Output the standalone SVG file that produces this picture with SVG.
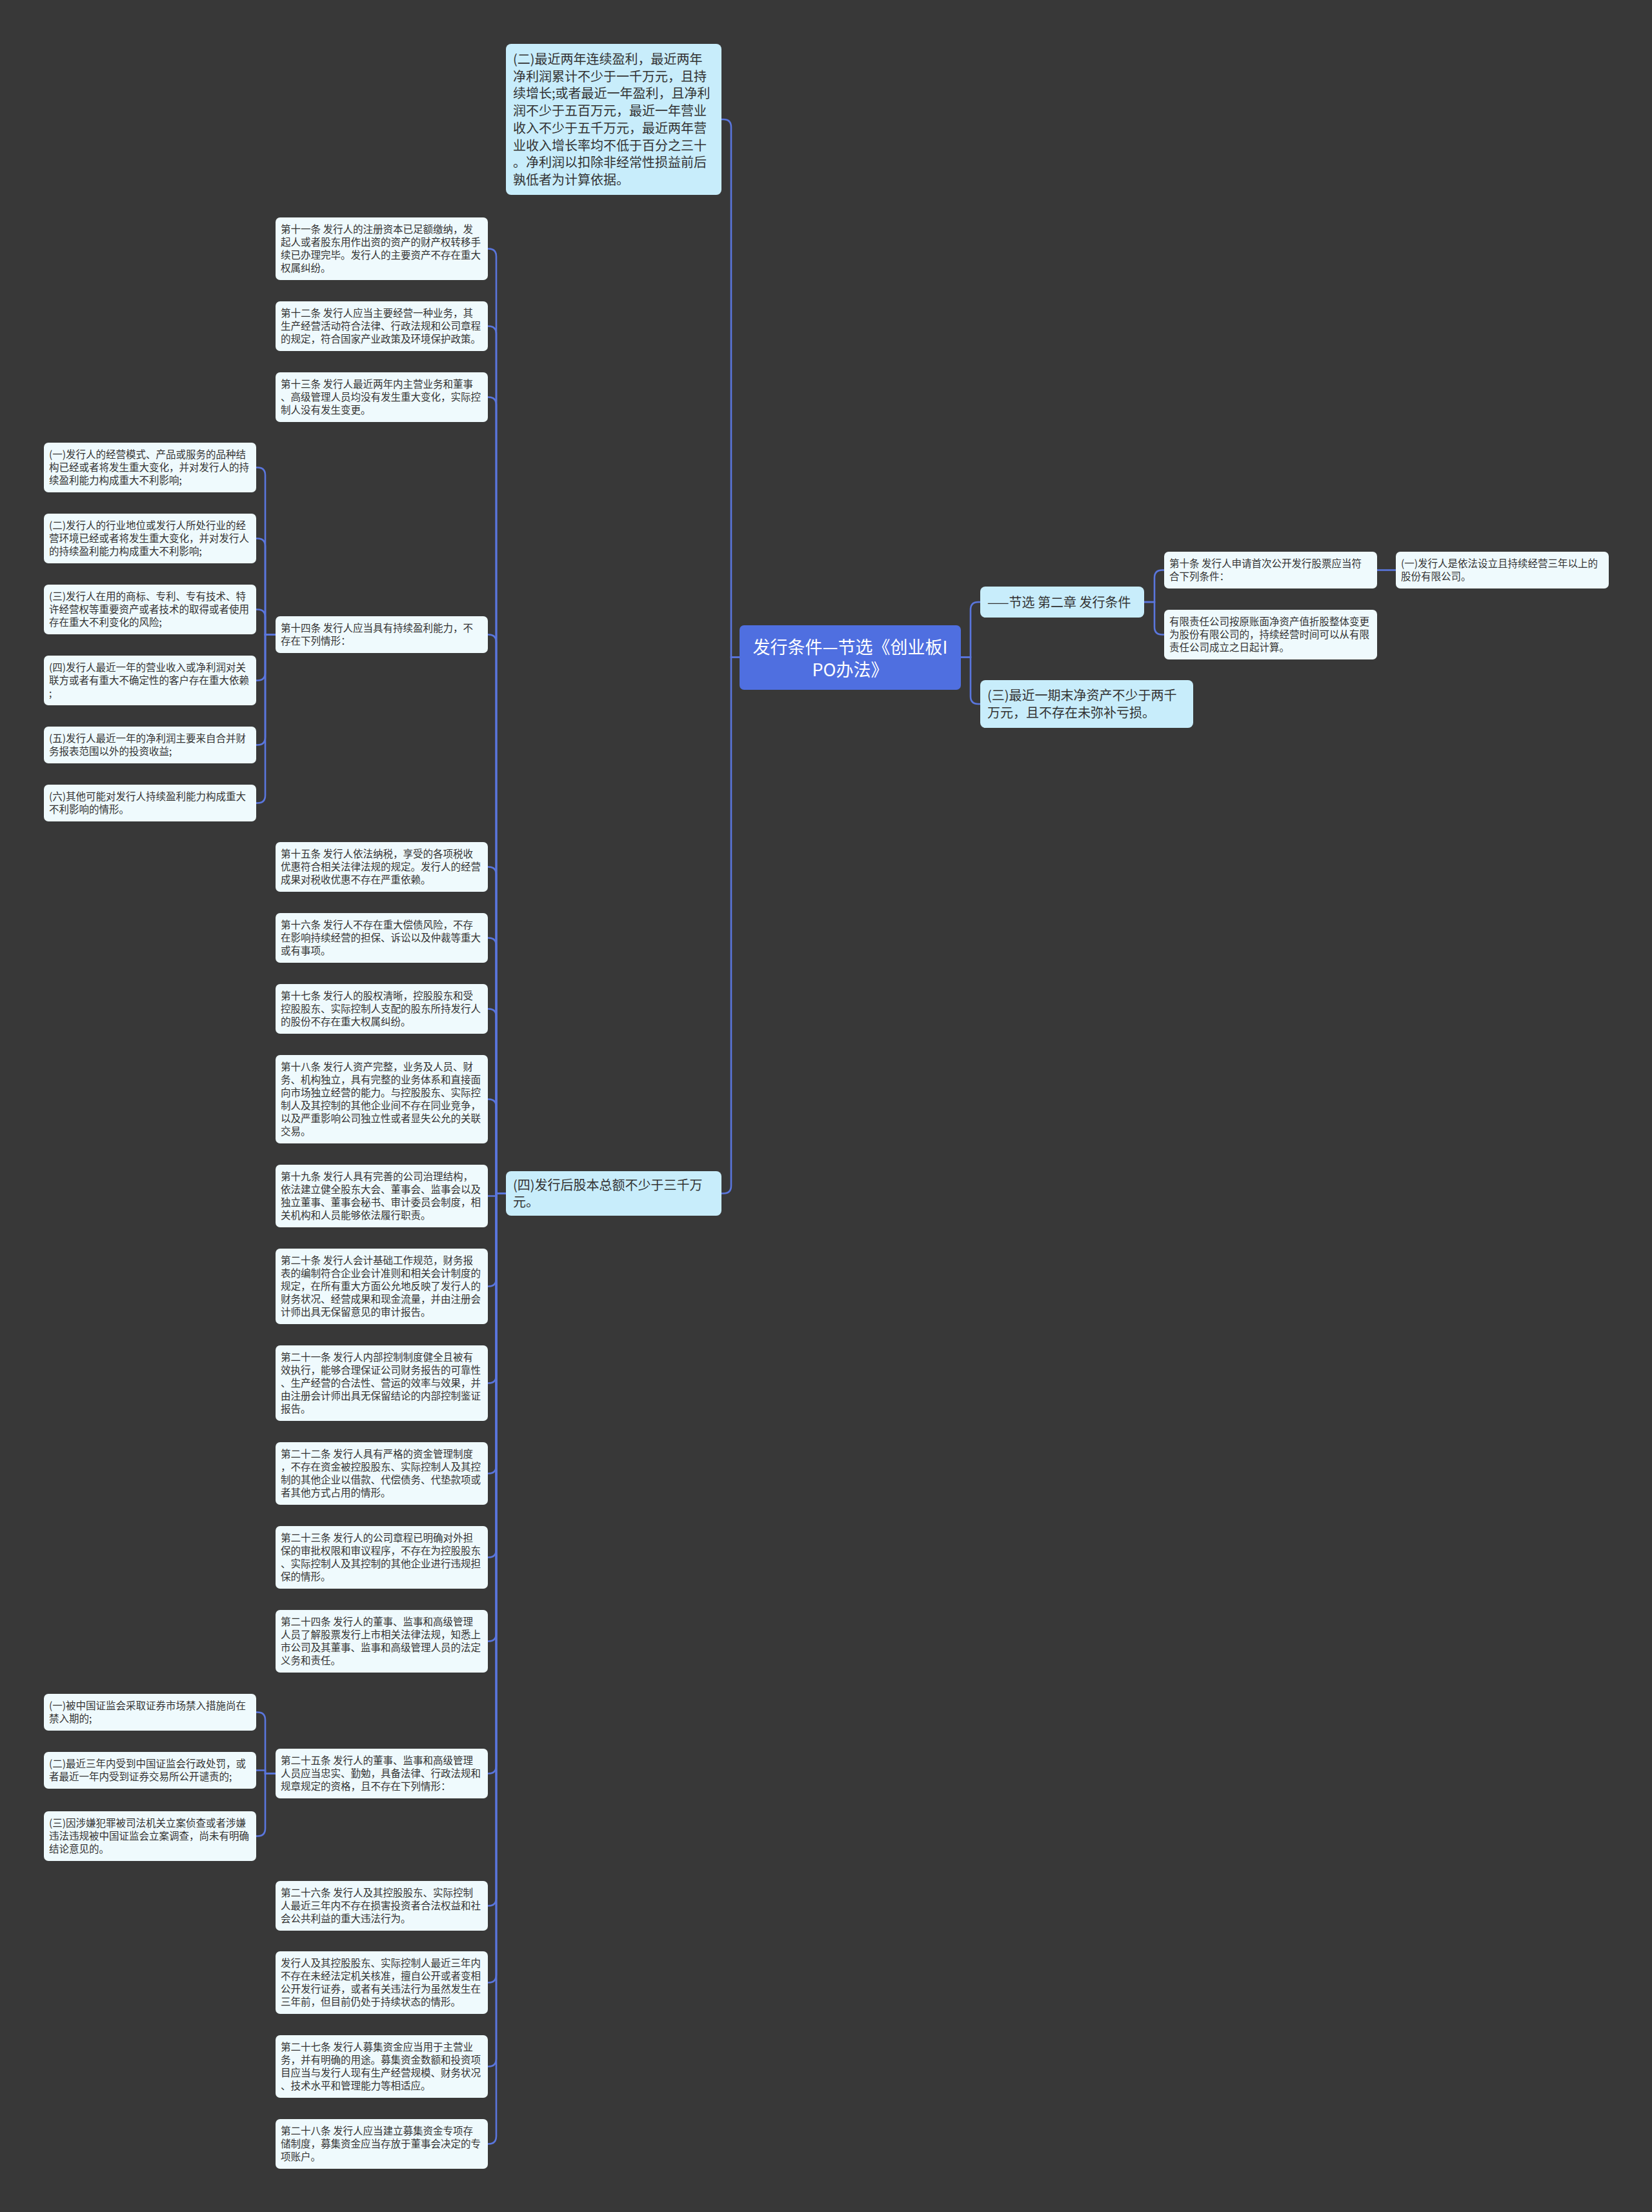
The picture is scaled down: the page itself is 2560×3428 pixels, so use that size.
<svg xmlns="http://www.w3.org/2000/svg" width="2560" height="3428" viewBox="0 0 2560 3428">
<style>
.bg{fill:#383838}
.c{fill:none;stroke:#5a76dd;stroke-width:2.6}
.root{fill:#4f6fe0}
.l1{fill:#c8edfb}
.l2{fill:#effafd}
text{font-family:"Noto Sans CJK SC","Noto Sans",sans-serif;fill:#333333}
.tr{font-size:27px;fill:#ffffff;text-anchor:middle}
.t1{font-size:20px}
.t2{font-size:15.5px}
</style>
<rect class="bg" x="0" y="0" width="2560" height="3428"/>
<g id="connectors">
<path class="c" d="M1146 1018.5 H1133 V197 Q1133 185 1121 185 H1118"/>
<path class="c" d="M1146 1018.5 H1133 V1837.5 Q1133 1849.5 1121 1849.5 H1118"/>
<path class="c" d="M1489 1018.5 H1504 V945 Q1504 933 1516 933 H1519"/>
<path class="c" d="M1489 1018.5 H1504 V1079 Q1504 1091 1516 1091 H1519"/>
<path class="c" d="M1773 933 H1789 V895.5 Q1789 883.5 1801 883.5 H1804"/>
<path class="c" d="M1773 933 H1789 V971.5 Q1789 983.5 1801 983.5 H1804"/>
<path class="c" d="M2134 883.5 H2163"/>
<path class="c" d="M784 1849.5 H769 V397.5 Q769 385.5 757 385.5 H756"/>
<path class="c" d="M784 1849.5 H769 V517.5 Q769 505.5 757 505.5 H756"/>
<path class="c" d="M784 1849.5 H769 V627.5 Q769 615.5 757 615.5 H756"/>
<path class="c" d="M784 1849.5 H769 V995.5 Q769 983.5 757 983.5 H756"/>
<path class="c" d="M784 1849.5 H769 V1355.5 Q769 1343.5 757 1343.5 H756"/>
<path class="c" d="M784 1849.5 H769 V1465.5 Q769 1453.5 757 1453.5 H756"/>
<path class="c" d="M784 1849.5 H769 V1575.5 Q769 1563.5 757 1563.5 H756"/>
<path class="c" d="M784 1849.5 H769 V1715.5 Q769 1703.5 757 1703.5 H756"/>
<path class="c" d="M784 1849.5 H769 V1853.5 H756"/>
<path class="c" d="M784 1849.5 H769 V1981.5 Q769 1993.5 757 1993.5 H756"/>
<path class="c" d="M784 1849.5 H769 V2131.5 Q769 2143.5 757 2143.5 H756"/>
<path class="c" d="M784 1849.5 H769 V2271.5 Q769 2283.5 757 2283.5 H756"/>
<path class="c" d="M784 1849.5 H769 V2401.5 Q769 2413.5 757 2413.5 H756"/>
<path class="c" d="M784 1849.5 H769 V2531.5 Q769 2543.5 757 2543.5 H756"/>
<path class="c" d="M784 1849.5 H769 V2736.5 Q769 2748.5 757 2748.5 H756"/>
<path class="c" d="M784 1849.5 H769 V2941.5 Q769 2953.5 757 2953.5 H756"/>
<path class="c" d="M784 1849.5 H769 V3060.5 Q769 3072.5 757 3072.5 H756"/>
<path class="c" d="M784 1849.5 H769 V3190.5 Q769 3202.5 757 3202.5 H756"/>
<path class="c" d="M784 1849.5 H769 V3310.5 Q769 3322.5 757 3322.5 H756"/>
<path class="c" d="M427 983.5 H411 V736.5 Q411 724.5 399 724.5 H397"/>
<path class="c" d="M427 983.5 H411 V846.5 Q411 834.5 399 834.5 H397"/>
<path class="c" d="M427 983.5 H411 V956.5 Q411 944.5 399 944.5 H397"/>
<path class="c" d="M427 983.5 H411 V1042.5 Q411 1054.5 399 1054.5 H397"/>
<path class="c" d="M427 983.5 H411 V1142.5 Q411 1154.5 399 1154.5 H397"/>
<path class="c" d="M427 983.5 H411 V1232.5 Q411 1244.5 399 1244.5 H397"/>
<path class="c" d="M427 2748.5 H411 V2665.5 Q411 2653.5 399 2653.5 H397"/>
<path class="c" d="M427 2748.5 H411 V2743.5 H397"/>
<path class="c" d="M427 2748.5 H411 V2833.5 Q411 2845.5 399 2845.5 H397"/>
</g>
<g id="root"><rect class="root" x="1146" y="969" width="343" height="100" rx="7"/><text class="tr"><tspan x="1317.5" y="1013">发行条件—节选《创业板I</tspan><tspan x="1317.5" y="1048">PO办法》</tspan></text></g>
<g id="n-er"><rect class="l1" x="784" y="68" width="334" height="234" rx="8"/><text class="t1"><tspan x="795" y="99">(二)最近两年连续盈利，最近两年</tspan><tspan x="795" y="125.7">净利润累计不少于一千万元，且持</tspan><tspan x="795" y="152.4">续增长;或者最近一年盈利，且净利</tspan><tspan x="795" y="179.1">润不少于五百万元，最近一年营业</tspan><tspan x="795" y="205.8">收入不少于五千万元，最近两年营</tspan><tspan x="795" y="232.5">业收入增长率均不低于百分之三十</tspan><tspan x="795" y="259.2">。净利润以扣除非经常性损益前后</tspan><tspan x="795" y="285.9">孰低者为计算依据。</tspan></text></g>
<g id="n-si"><rect class="l1" x="784" y="1815" width="334" height="69" rx="8"/><text class="t1"><tspan x="795" y="1843.7">(四)发行后股本总额不少于三千万</tspan><tspan x="795" y="1870.4">元。</tspan></text></g>
<g id="n-jiexuan"><rect class="l1" x="1519" y="909" width="254" height="48" rx="8"/><text class="t1"><tspan x="1530" y="940.5">——节选 第二章 发行条件</tspan></text></g>
<g id="n-san"><rect class="l1" x="1519" y="1054" width="330" height="74" rx="8"/><text class="t1"><tspan x="1530" y="1085">(三)最近一期末净资产不少于两千</tspan><tspan x="1530" y="1111.7">万元，且不存在未弥补亏损。</tspan></text></g>
<g id="n-10"><rect class="l2" x="1804" y="855" width="330" height="57" rx="7"/><text class="t2"><tspan x="1812" y="879">第十条 发行人申请首次公开发行股票应当符</tspan><tspan x="1812" y="899">合下列条件：</tspan></text></g>
<g id="n-ltd"><rect class="l2" x="1804" y="945" width="330" height="77" rx="7"/><text class="t2"><tspan x="1812" y="969">有限责任公司按原账面净资产值折股整体变更</tspan><tspan x="1812" y="989">为股份有限公司的，持续经营时间可以从有限</tspan><tspan x="1812" y="1009">责任公司成立之日起计算。</tspan></text></g>
<g id="n-10-1"><rect class="l2" x="2163" y="855" width="330" height="57" rx="7"/><text class="t2"><tspan x="2171" y="879">(一)发行人是依法设立且持续经营三年以上的</tspan><tspan x="2171" y="899">股份有限公司。</tspan></text></g>
<g id="n-11"><rect class="l2" x="427" y="337" width="329" height="97" rx="7"/><text class="t2"><tspan x="435" y="361">第十一条 发行人的注册资本已足额缴纳，发</tspan><tspan x="435" y="381">起人或者股东用作出资的资产的财产权转移手</tspan><tspan x="435" y="401">续已办理完毕。发行人的主要资产不存在重大</tspan><tspan x="435" y="421">权属纠纷。</tspan></text></g>
<g id="n-12"><rect class="l2" x="427" y="467" width="329" height="77" rx="7"/><text class="t2"><tspan x="435" y="491">第十二条 发行人应当主要经营一种业务，其</tspan><tspan x="435" y="511">生产经营活动符合法律、行政法规和公司章程</tspan><tspan x="435" y="531">的规定，符合国家产业政策及环境保护政策。</tspan></text></g>
<g id="n-13"><rect class="l2" x="427" y="577" width="329" height="77" rx="7"/><text class="t2"><tspan x="435" y="601">第十三条 发行人最近两年内主营业务和董事</tspan><tspan x="435" y="621">、高级管理人员均没有发生重大变化，实际控</tspan><tspan x="435" y="641">制人没有发生变更。</tspan></text></g>
<g id="n-14"><rect class="l2" x="427" y="955" width="329" height="57" rx="7"/><text class="t2"><tspan x="435" y="979">第十四条 发行人应当具有持续盈利能力，不</tspan><tspan x="435" y="999">存在下列情形：</tspan></text></g>
<g id="n-14-1"><rect class="l2" x="68" y="686" width="329" height="77" rx="7"/><text class="t2"><tspan x="76" y="710">(一)发行人的经营模式、产品或服务的品种结</tspan><tspan x="76" y="730">构已经或者将发生重大变化，并对发行人的持</tspan><tspan x="76" y="750">续盈利能力构成重大不利影响;</tspan></text></g>
<g id="n-14-2"><rect class="l2" x="68" y="796" width="329" height="77" rx="7"/><text class="t2"><tspan x="76" y="820">(二)发行人的行业地位或发行人所处行业的经</tspan><tspan x="76" y="840">营环境已经或者将发生重大变化，并对发行人</tspan><tspan x="76" y="860">的持续盈利能力构成重大不利影响;</tspan></text></g>
<g id="n-14-3"><rect class="l2" x="68" y="906" width="329" height="77" rx="7"/><text class="t2"><tspan x="76" y="930">(三)发行人在用的商标、专利、专有技术、特</tspan><tspan x="76" y="950">许经营权等重要资产或者技术的取得或者使用</tspan><tspan x="76" y="970">存在重大不利变化的风险;</tspan></text></g>
<g id="n-14-4"><rect class="l2" x="68" y="1016" width="329" height="77" rx="7"/><text class="t2"><tspan x="76" y="1040">(四)发行人最近一年的营业收入或净利润对关</tspan><tspan x="76" y="1060">联方或者有重大不确定性的客户存在重大依赖</tspan><tspan x="76" y="1080">;</tspan></text></g>
<g id="n-14-5"><rect class="l2" x="68" y="1126" width="329" height="57" rx="7"/><text class="t2"><tspan x="76" y="1150">(五)发行人最近一年的净利润主要来自合并财</tspan><tspan x="76" y="1170">务报表范围以外的投资收益;</tspan></text></g>
<g id="n-14-6"><rect class="l2" x="68" y="1216" width="329" height="57" rx="7"/><text class="t2"><tspan x="76" y="1240">(六)其他可能对发行人持续盈利能力构成重大</tspan><tspan x="76" y="1260">不利影响的情形。</tspan></text></g>
<g id="n-15"><rect class="l2" x="427" y="1305" width="329" height="77" rx="7"/><text class="t2"><tspan x="435" y="1329">第十五条 发行人依法纳税，享受的各项税收</tspan><tspan x="435" y="1349">优惠符合相关法律法规的规定。发行人的经营</tspan><tspan x="435" y="1369">成果对税收优惠不存在严重依赖。</tspan></text></g>
<g id="n-16"><rect class="l2" x="427" y="1415" width="329" height="77" rx="7"/><text class="t2"><tspan x="435" y="1439">第十六条 发行人不存在重大偿债风险，不存</tspan><tspan x="435" y="1459">在影响持续经营的担保、诉讼以及仲裁等重大</tspan><tspan x="435" y="1479">或有事项。</tspan></text></g>
<g id="n-17"><rect class="l2" x="427" y="1525" width="329" height="77" rx="7"/><text class="t2"><tspan x="435" y="1549">第十七条 发行人的股权清晰，控股股东和受</tspan><tspan x="435" y="1569">控股股东、实际控制人支配的股东所持发行人</tspan><tspan x="435" y="1589">的股份不存在重大权属纠纷。</tspan></text></g>
<g id="n-18"><rect class="l2" x="427" y="1635" width="329" height="137" rx="7"/><text class="t2"><tspan x="435" y="1659">第十八条 发行人资产完整，业务及人员、财</tspan><tspan x="435" y="1679">务、机构独立，具有完整的业务体系和直接面</tspan><tspan x="435" y="1699">向市场独立经营的能力。与控股股东、实际控</tspan><tspan x="435" y="1719">制人及其控制的其他企业间不存在同业竞争，</tspan><tspan x="435" y="1739">以及严重影响公司独立性或者显失公允的关联</tspan><tspan x="435" y="1759">交易。</tspan></text></g>
<g id="n-19"><rect class="l2" x="427" y="1805" width="329" height="97" rx="7"/><text class="t2"><tspan x="435" y="1829">第十九条 发行人具有完善的公司治理结构，</tspan><tspan x="435" y="1849">依法建立健全股东大会、董事会、监事会以及</tspan><tspan x="435" y="1869">独立董事、董事会秘书、审计委员会制度，相</tspan><tspan x="435" y="1889">关机构和人员能够依法履行职责。</tspan></text></g>
<g id="n-20"><rect class="l2" x="427" y="1935" width="329" height="117" rx="7"/><text class="t2"><tspan x="435" y="1959">第二十条 发行人会计基础工作规范，财务报</tspan><tspan x="435" y="1979">表的编制符合企业会计准则和相关会计制度的</tspan><tspan x="435" y="1999">规定，在所有重大方面公允地反映了发行人的</tspan><tspan x="435" y="2019">财务状况、经营成果和现金流量，并由注册会</tspan><tspan x="435" y="2039">计师出具无保留意见的审计报告。</tspan></text></g>
<g id="n-21"><rect class="l2" x="427" y="2085" width="329" height="117" rx="7"/><text class="t2"><tspan x="435" y="2109">第二十一条 发行人内部控制制度健全且被有</tspan><tspan x="435" y="2129">效执行，能够合理保证公司财务报告的可靠性</tspan><tspan x="435" y="2149">、生产经营的合法性、营运的效率与效果，并</tspan><tspan x="435" y="2169">由注册会计师出具无保留结论的内部控制鉴证</tspan><tspan x="435" y="2189">报告。</tspan></text></g>
<g id="n-22"><rect class="l2" x="427" y="2235" width="329" height="97" rx="7"/><text class="t2"><tspan x="435" y="2259">第二十二条 发行人具有严格的资金管理制度</tspan><tspan x="435" y="2279">，不存在资金被控股股东、实际控制人及其控</tspan><tspan x="435" y="2299">制的其他企业以借款、代偿债务、代垫款项或</tspan><tspan x="435" y="2319">者其他方式占用的情形。</tspan></text></g>
<g id="n-23"><rect class="l2" x="427" y="2365" width="329" height="97" rx="7"/><text class="t2"><tspan x="435" y="2389">第二十三条 发行人的公司章程已明确对外担</tspan><tspan x="435" y="2409">保的审批权限和审议程序，不存在为控股股东</tspan><tspan x="435" y="2429">、实际控制人及其控制的其他企业进行违规担</tspan><tspan x="435" y="2449">保的情形。</tspan></text></g>
<g id="n-24"><rect class="l2" x="427" y="2495" width="329" height="97" rx="7"/><text class="t2"><tspan x="435" y="2519">第二十四条 发行人的董事、监事和高级管理</tspan><tspan x="435" y="2539">人员了解股票发行上市相关法律法规，知悉上</tspan><tspan x="435" y="2559">市公司及其董事、监事和高级管理人员的法定</tspan><tspan x="435" y="2579">义务和责任。</tspan></text></g>
<g id="n-25"><rect class="l2" x="427" y="2710" width="329" height="77" rx="7"/><text class="t2"><tspan x="435" y="2734">第二十五条 发行人的董事、监事和高级管理</tspan><tspan x="435" y="2754">人员应当忠实、勤勉，具备法律、行政法规和</tspan><tspan x="435" y="2774">规章规定的资格，且不存在下列情形：</tspan></text></g>
<g id="n-25-1"><rect class="l2" x="68" y="2625" width="329" height="57" rx="7"/><text class="t2"><tspan x="76" y="2649">(一)被中国证监会采取证券市场禁入措施尚在</tspan><tspan x="76" y="2669">禁入期的;</tspan></text></g>
<g id="n-25-2"><rect class="l2" x="68" y="2715" width="329" height="57" rx="7"/><text class="t2"><tspan x="76" y="2739">(二)最近三年内受到中国证监会行政处罚，或</tspan><tspan x="76" y="2759">者最近一年内受到证券交易所公开谴责的;</tspan></text></g>
<g id="n-25-3"><rect class="l2" x="68" y="2807" width="329" height="77" rx="7"/><text class="t2"><tspan x="76" y="2831">(三)因涉嫌犯罪被司法机关立案侦查或者涉嫌</tspan><tspan x="76" y="2851">违法违规被中国证监会立案调查，尚未有明确</tspan><tspan x="76" y="2871">结论意见的。</tspan></text></g>
<g id="n-26"><rect class="l2" x="427" y="2915" width="329" height="77" rx="7"/><text class="t2"><tspan x="435" y="2939">第二十六条 发行人及其控股股东、实际控制</tspan><tspan x="435" y="2959">人最近三年内不存在损害投资者合法权益和社</tspan><tspan x="435" y="2979">会公共利益的重大违法行为。</tspan></text></g>
<g id="n-26b"><rect class="l2" x="427" y="3024" width="329" height="97" rx="7"/><text class="t2"><tspan x="435" y="3048">发行人及其控股股东、实际控制人最近三年内</tspan><tspan x="435" y="3068">不存在未经法定机关核准，擅自公开或者变相</tspan><tspan x="435" y="3088">公开发行证券，或者有关违法行为虽然发生在</tspan><tspan x="435" y="3108">三年前，但目前仍处于持续状态的情形。</tspan></text></g>
<g id="n-27"><rect class="l2" x="427" y="3154" width="329" height="97" rx="7"/><text class="t2"><tspan x="435" y="3178">第二十七条 发行人募集资金应当用于主营业</tspan><tspan x="435" y="3198">务，并有明确的用途。募集资金数额和投资项</tspan><tspan x="435" y="3218">目应当与发行人现有生产经营规模、财务状况</tspan><tspan x="435" y="3238">、技术水平和管理能力等相适应。</tspan></text></g>
<g id="n-28"><rect class="l2" x="427" y="3284" width="329" height="77" rx="7"/><text class="t2"><tspan x="435" y="3308">第二十八条 发行人应当建立募集资金专项存</tspan><tspan x="435" y="3328">储制度，募集资金应当存放于董事会决定的专</tspan><tspan x="435" y="3348">项账户。</tspan></text></g>
</svg>
